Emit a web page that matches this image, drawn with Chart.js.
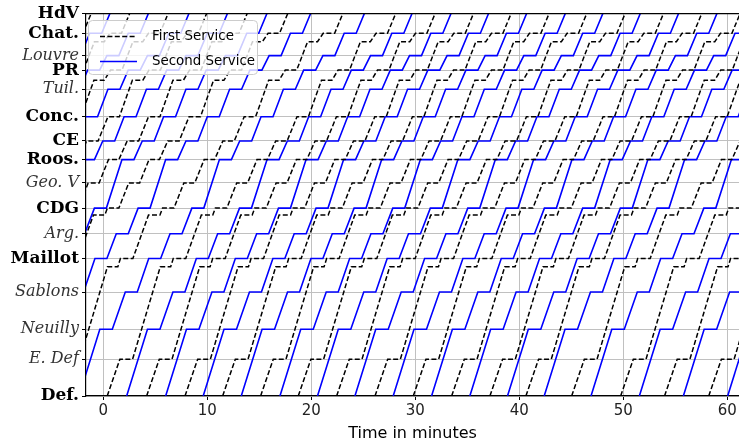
<!DOCTYPE html>
<html>
<head>
<meta charset="utf-8">
<script src="https://cdn.jsdelivr.net/npm/chart.js@4.4.1/dist/chart.umd.min.js"></script>
<style>
  html, body { margin: 0; padding: 0; background: #fff; }
  #wrap { width: 739px; height: 445px; }
</style>
</head>
<body>
<div id="wrap"><canvas id="metro" width="739" height="445"></canvas></div>
<script>
// ----------------------------- stations (distance from La Defense, km) -----------------------------
const stationNames = ['Def.', 'E. Def', 'Neuilly', 'Sablons', 'Maillot', 'Arg.', 'CDG', 'Geo. V',
  'Roos.', 'CE', 'Conc.', 'Tuil.', 'PR', 'Louvre', 'Chat.', 'HdV'];
const stationKm = [0, 0.79, 1.43, 2.23, 2.95, 3.48, 4.03, 4.57, 5.07, 5.47, 5.99, 6.58, 6.99, 7.30, 7.78, 8.21];
const stationBold = [1, 0, 0, 0, 1, 0, 1, 0, 1, 1, 1, 0, 1, 0, 1, 1];

const timeTicks = [0, 10, 20, 30, 40, 50, 60];

// ----------------------------- first service (black dashed) -----------------------------
// stop / hold positions (km) and arrive / leave times, minutes after leaving Def.
const firstStopKm = [0, 0.79, 2.77, 2.95, 3.88, 4.03, 4.57, 5.07, 5.47, 5.99, 6.77, 6.99, 7.60, 7.78, 8.21];
const firstArrive = [0, 1.22, 5.1, 6.35, 9.05, 10.4, 12.45, 14.4, 16.2, 18.25, 20.6, 22.2, 24.35, 25.85, 27.75];
const firstLeave = [0, 2.44, 6.1, 7.55, 10.15, 11.5, 13.5, 15.4, 17.3, 19.35, 21.6, 23.3, 25.3, 26.95, 27.75];
const firstDepart = [-28.9, -25.2, -21.5, -17.8, -13.9, -10.0, -4.7, 0.38, 4.17, 7.86, 11.48, 15.13, 18.75,
  22.44, 26.13, 29.81, 33.5, 37.18, 40.64, 45.04, 49.75, 53.97, 58.22];

// ----------------------------- second service (blue) -----------------------------
const secondStopKm = [0, 1.43, 2.23, 2.95, 3.48, 4.03, 5.07, 5.47, 5.99, 6.58, 6.99, 7.30, 7.78, 8.21];
const secondArrive = [0, 2.0, 4.45, 6.7, 8.75, 10.85, 13.5, 15.45, 17.5, 19.65, 21.6, 23.45, 25.5, 27.45];
const secondLeave = [0, 3.2, 5.6, 7.85, 9.9, 12.0, 14.65, 16.6, 18.65, 20.8, 22.75, 24.6, 26.65, 27.45];
const secondDepart = [-26.8, -23.1, -19.2, -15.5, -11.7, -7.5, -2.33, 2.25, 6.0, 9.61, 13.27, 16.99, 20.6,
  24.2, 27.88, 31.57, 35.25, 38.87, 42.4, 46.9, 51.55, 55.78, 60.04];

// build one line per train
function trainPoints(dep, km, arr, leave) {
  let pts = [];
  km.forEach((k, i) => {
    pts.push({ x: dep + arr[i], y: k });
    if (leave[i] != arr[i]) pts.push({ x: dep + leave[i], y: k });
  });
  return pts;
}

let datasets = [];
firstDepart.forEach(dep => {
  datasets.push({
    data: trainPoints(dep, firstStopKm, firstArrive, firstLeave),
    borderColor: '#000000',
    borderWidth: 1.5,
    borderDash: [5, 2.4],
    showLine: true,
    pointRadius: 0,
    tension: 0
  });
});
secondDepart.forEach(dep => {
  datasets.push({
    data: trainPoints(dep, secondStopKm, secondArrive, secondLeave),
    borderColor: '#0000ff',
    borderWidth: 1.6,
    showLine: true,
    pointRadius: 0,
    tension: 0
  });
});

// legend drawn inside the plot, like the original
const insideLegend = {
  id: 'insideLegend',
  afterDatasetsDraw(chart) {
    const c = chart.ctx;
    const a = chart.chartArea;
    c.save();
    // top frame line
    c.strokeStyle = '#000';
    c.lineWidth = 1.2;
    c.beginPath();
    c.moveTo(a.left, a.top + 0.5);
    c.lineTo(a.right, a.top + 0.5);
    c.stroke();

    const x = 88.5, y = 20.5, w = 169, h = 54, r = 4;
    c.lineWidth = 1;
    c.beginPath();
    c.moveTo(x + r, y);
    c.arcTo(x + w, y, x + w, y + h, r);
    c.arcTo(x + w, y + h, x, y + h, r);
    c.arcTo(x, y + h, x, y, r);
    c.arcTo(x, y, x + w, y, r);
    c.closePath();
    c.fillStyle = 'rgba(255,255,255,0.8)';
    c.fill();
    c.strokeStyle = '#cccccc';
    c.stroke();

    c.lineWidth = 1.5;
    c.strokeStyle = '#000';
    c.setLineDash([5, 2.4]);
    c.beginPath();
    c.moveTo(100, 36.5);
    c.lineTo(137, 36.5);
    c.stroke();
    c.setLineDash([]);
    c.strokeStyle = '#0000ff';
    c.lineWidth = 1.6;
    c.beginPath();
    c.moveTo(100, 61.5);
    c.lineTo(137, 61.5);
    c.stroke();

    c.fillStyle = '#000';
    c.font = '13.4px "DejaVu Sans"';
    c.textBaseline = 'middle';
    c.fillText('First Service', 152, 37);
    c.fillText('Second Service', 152, 62);
    c.restore();
  }
};

const ctx = document.getElementById('metro');
new Chart(ctx, {
  type: 'scatter',
  data: { datasets: datasets },
  options: {
    responsive: false,
    animation: false,
    devicePixelRatio: 1,
    layout: { padding: { top: 13, right: 0, left: 0, bottom: 0 } },
    plugins: { legend: { display: false }, tooltip: { enabled: false } },
    scales: {
      x: {
        type: 'linear',
        min: -1.66,
        max: 61.13,
        afterBuildTicks: s => { s.ticks = timeTicks.map(v => ({ value: v })); },
        afterFit: s => { s.height = 49; },
        grid: { color: '#c0c0c0', lineWidth: 1, tickLength: 4, tickColor: '#000' },
        border: { color: '#000', width: 1.2 },
        ticks: {
          color: '#222',
          padding: 2,
          font: { family: 'DejaVu Sans', size: 15 },
          maxRotation: 0
        },
        title: {
          display: true,
          text: 'Time in minutes',
          color: '#000',
          font: { family: 'DejaVu Sans', size: 16 },
          padding: { top: 0, bottom: 2 }
        }
      },
      y: {
        type: 'linear',
        min: 0,
        max: 8.21,
        afterBuildTicks: s => { s.ticks = stationKm.map(v => ({ value: v })); },
        afterFit: s => { s.width = 86; },
        grid: { color: '#c0c0c0', lineWidth: 1, tickLength: 4, tickColor: '#000' },
        border: { color: '#000', width: 1.2 },
        ticks: {
          autoSkip: false,
          padding: 3,
          color: c => stationBold[c.index] ? '#000' : '#333',
          font: c => stationBold[c.index]
            ? { family: 'DejaVu Serif', size: 17, weight: 'bold' }
            : { family: 'DejaVu Serif', size: 16, style: 'italic' },
          callback: (v, i) => stationNames[i]
        }
      }
    }
  },
  plugins: [insideLegend]
});
</script>
</body>
</html>
